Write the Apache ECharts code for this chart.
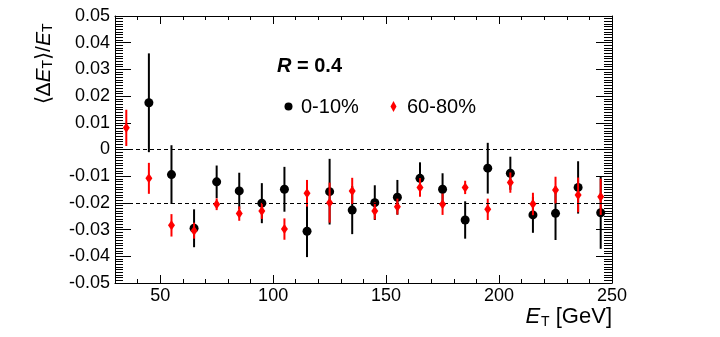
<!DOCTYPE html>
<html>
<head>
<meta charset="utf-8">
<script src="https://cdn.jsdelivr.net/npm/echarts@6/dist/echarts.min.js"></script>
<style>
  html, body { margin: 0; padding: 0; background: #fff; }
  #chart { width: 720px; height: 337px; }
</style>
</head>
<body>
<div id="chart"></div>
<script>
// bin centres, E_T in GeV
const etCentral = [45, 55, 65, 75, 85, 95, 105, 115, 125, 135, 145, 155, 165, 175, 185, 195, 205, 215, 225, 235, 245]
const centralVal = [0.0175, -0.0094, -0.0295, -0.0121, -0.0155, -0.0201, -0.0149, -0.0306, -0.0158, -0.0227, -0.0199,
  -0.0179, -0.0108, -0.0149, -0.0264, -0.0070, -0.0089, -0.0245, -0.0239, -0.0142, -0.0237]
const centralErr = [0.0185, 0.0110, 0.0071, 0.0061, 0.0068, 0.0075, 0.0084, 0.0097, 0.0123, 0.0090, 0.0065,
  0.0065, 0.0060, 0.0060, 0.0070, 0.0095, 0.0062, 0.0067, 0.0100, 0.0098, 0.0135]

const etPeripheral = [35, 45, 55, 65, 75, 85, 95, 105, 115, 125, 135, 145, 155, 165, 175, 185, 195, 205, 215, 225, 235, 245]
const peripheralVal = [0.0081, -0.0108, -0.0284, -0.0304, -0.0205, -0.0240, -0.0230, -0.0298, -0.0164, -0.0199, -0.0155,
  -0.0230, -0.0214, -0.0142, -0.0205, -0.0142, -0.0224, -0.0124, -0.0204, -0.0152, -0.0170, -0.0177]
const peripheralErr = [0.0068, 0.0058, 0.0042, 0.0030, 0.0022, 0.0027, 0.0030, 0.0040, 0.0050, 0.0075, 0.0049,
  0.0032, 0.0030, 0.0035, 0.0040, 0.0025, 0.0040, 0.0038, 0.0042, 0.0050, 0.0065, 0.0068]

const xMajorTicks = [50, 100, 150, 200, 250]
const refLines = [0, -0.02]

const FONT = "'Liberation Sans', Arial, Helvetica, sans-serif"

function toPoints(xs, vals, errs) {
  return xs.map((x, i) => [x, vals[i], errs[i]])
}

// vertical error bar drawn through the axes
function errorBar(color) {
  return function (params, api) {
    const x = api.value(0), y = api.value(1), e = api.value(2)
    const top = api.coord([x, y + e])
    const bot = api.coord([x, y - e])
    return {
      type: 'line',
      shape: { x1: top[0], y1: top[1], x2: bot[0], y2: bot[1] },
      style: { stroke: color, lineWidth: 2 }
    }
  }
}

function yLabel(v) {
  if (Math.abs(v) < 1e-9) return '0'
  return v.toFixed(2)
}

const chart = echarts.init(document.getElementById('chart'), null, { renderer: 'canvas' })

const xBase = { type: 'value', min: 30, max: 250, splitLine: { show: false } }
const yBase = { type: 'value', min: -0.05, max: 0.05, interval: 0.01, splitLine: { show: false } }
const blackLine = { show: true, onZero: false, lineStyle: { color: '#000', width: 1 } }
const noLine = { show: false, onZero: false }
const tickStyle = { color: '#000', width: 1 }

chart.setOption({
  animation: false,
  backgroundColor: '#fff',
  grid: { left: 115, right: 108, top: 16, bottom: 54 },
  xAxis: [
    // bottom, minor ticks + labels
    Object.assign({}, xBase, {
      position: 'bottom', interval: 10,
      axisLine: blackLine,
      axisTick: { inside: true, length: 4, lineStyle: tickStyle },
      axisLabel: {
        margin: 4, color: '#000', fontFamily: FONT, fontSize: 18,
        formatter: v => (v % 50 === 0 ? String(v) : '')
      }
    }),
    // bottom, major ticks
    Object.assign({}, xBase, {
      position: 'bottom',
      axisLine: noLine,
      axisTick: { inside: true, length: 8, customValues: xMajorTicks, lineStyle: tickStyle },
      axisLabel: { show: false }
    }),
    // top mirror
    Object.assign({}, xBase, {
      position: 'top', interval: 10,
      axisLine: blackLine,
      axisTick: { inside: true, length: 4, lineStyle: tickStyle },
      axisLabel: { show: false }
    }),
    Object.assign({}, xBase, {
      position: 'top',
      axisLine: noLine,
      axisTick: { inside: true, length: 8, customValues: xMajorTicks, lineStyle: tickStyle },
      axisLabel: { show: false }
    })
  ],
  yAxis: [
    Object.assign({}, yBase, {
      position: 'left',
      axisLine: blackLine,
      axisTick: { show: true, inside: true, length: 16, lineStyle: tickStyle },
      minorTick: { show: true, splitNumber: 10, length: 8, lineStyle: tickStyle },
      axisLabel: { margin: 5, color: '#000', fontFamily: FONT, fontSize: 18, formatter: yLabel }
    }),
    Object.assign({}, yBase, {
      position: 'right',
      axisLine: blackLine,
      axisTick: { show: true, inside: true, length: 16, lineStyle: tickStyle },
      minorTick: { show: true, splitNumber: 10, length: 8, lineStyle: tickStyle },
      axisLabel: { show: false }
    })
  ],
  series: [
    {
      name: '0-10%',
      type: 'custom',
      renderItem: errorBar('#000'),
      data: toPoints(etCentral, centralVal, centralErr),
      encode: { x: 0, y: 1 },
      z: 2,
      markLine: {
        silent: true,
        symbol: 'none',
        label: { show: false },
        lineStyle: { type: [4, 3], color: '#000', width: 1 },
        data: refLines.map(v => ({ yAxis: v }))
      }
    },
    {
      name: '0-10%',
      type: 'scatter',
      symbol: 'circle',
      symbolSize: 9,
      itemStyle: { color: '#000', opacity: 1 },
      data: toPoints(etCentral, centralVal, centralErr),
      z: 3
    },
    {
      name: '60-80%',
      type: 'custom',
      renderItem: errorBar('#ff0000'),
      data: toPoints(etPeripheral, peripheralVal, peripheralErr),
      encode: { x: 0, y: 1 },
      z: 4
    },
    {
      name: '60-80%',
      type: 'scatter',
      symbol: 'diamond',
      symbolSize: [7, 10],
      itemStyle: { color: '#ff0000', opacity: 1 },
      data: toPoints(etPeripheral, peripheralVal, peripheralErr),
      z: 5
    }
  ],
  graphic: [
    // R = 0.4 label
    {
      type: 'text', left: 277, top: 56,
      style: {
        text: '{i|R}{b| = 0.4}',
        rich: {
          i: { fontFamily: FONT, fontSize: 20, fontWeight: 'bold', fontStyle: 'italic', fill: '#000' },
          b: { fontFamily: FONT, fontSize: 20, fontWeight: 'bold', fill: '#000' }
        }
      }
    },
    // legend
    { type: 'circle', shape: { cx: 288.5, cy: 106.5, r: 4 }, style: { fill: '#000' } },
    {
      type: 'text', x: 301, y: 107,
      style: { text: '0-10%', fontFamily: FONT, fontSize: 20, fill: '#000', verticalAlign: 'middle' }
    },
    {
      type: 'polygon',
      shape: { points: [[393.5, 101], [396.5, 106.5], [393.5, 112], [390.5, 106.5]] },
      style: { fill: '#ff0000' }
    },
    {
      type: 'text', x: 407, y: 107,
      style: { text: '60-80%', fontFamily: FONT, fontSize: 20, fill: '#000', verticalAlign: 'middle' }
    },
    // y title
    {
      type: 'text', x: 44, y: 64, rotation: Math.PI / 2,
      style: {
        text: '{n|⟨Δ}{i|E}{s|T}{n|⟩/}{i|E}{s|T}',
        align: 'center', verticalAlign: 'middle',
        rich: {
          n: { fontFamily: FONT, fontSize: 21, fill: '#000', lineHeight: 24 },
          i: { fontFamily: FONT, fontSize: 21, fontStyle: 'italic', fill: '#000', lineHeight: 24 },
          s: { fontFamily: FONT, fontSize: 14, fill: '#000', verticalAlign: 'top', padding: [9, 0, 0, 0] }
        }
      }
    },
    // x title
    {
      type: 'text', x: 612, y: 317,
      style: {
        text: '{i|E}{s|T}{n| [GeV]}',
        align: 'right', verticalAlign: 'middle',
        rich: {
          n: { fontFamily: FONT, fontSize: 22, fill: '#000', lineHeight: 24 },
          i: { fontFamily: FONT, fontSize: 22, fontStyle: 'italic', fill: '#000', lineHeight: 24 },
          s: { fontFamily: FONT, fontSize: 14, fill: '#000', verticalAlign: 'top', padding: [10, 0, 0, 1] }
        }
      }
    }
  ]
})
</script>
</body>
</html>
